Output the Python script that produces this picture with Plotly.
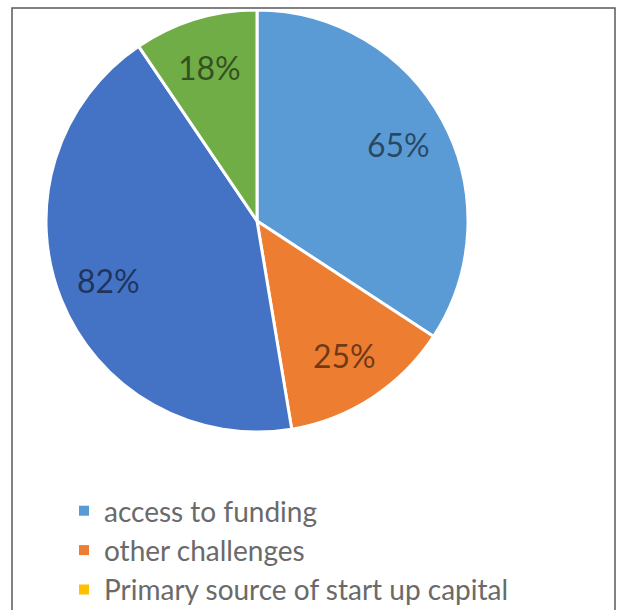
import math
import plotly.graph_objects as go

# Pie slices, clockwise from 12 o'clock
slice_values = [65, 25, 82, 18]
slice_colors = ["#5B9BD5", "#ED7D31", "#4472C4", "#70AD47"]
slice_text = [f"{v}%" for v in slice_values]

# Legend entries
legend_labels = ["access to funding", "other challenges", "Primary source of start up capital"]
legend_colors = ["#5B9BD5", "#ED7D31", "#FFC000"]

W, H = 617, 610
cx, cy, r = 257, 221, 211      # pie centre and radius (px)
label_radius = 0.76            # fraction of the pie radius where value labels sit

fig = go.Figure()
fig.add_trace(go.Pie(
    values=slice_values,
    textinfo="none",
    sort=False,
    direction="clockwise",
    rotation=0,
    marker=dict(colors=slice_colors, line=dict(color="white", width=3)),
    showlegend=False,
    domain=dict(x=[(cx - r) / W, (cx + r) / W], y=[1 - (cy + r) / H, 1 - (cy - r) / H]),
))

# Value labels at the middle angle of each slice
annotations = []
total = sum(slice_values)
start = 0.0
for v, t in zip(slice_values, slice_text):
    mid = (start + v / 2) / total * 2 * math.pi
    start += v
    px = cx + label_radius * r * math.sin(mid)
    py = cy - label_radius * r * math.cos(mid)
    annotations.append(dict(
        x=px / W, y=1 - py / H, xref="paper", yref="paper",
        text=t, showarrow=False, xanchor="center", yanchor="middle",
        font=dict(family="Lato", size=32, color="rgba(0,0,0,0.55)"),
    ))

for name, col in zip(legend_labels, legend_colors):
    fig.add_trace(go.Scatter(
        x=[None], y=[None], mode="markers", name=name,
        marker=dict(symbol="square", size=10, color=col),
    ))

fig.update_layout(
    width=W, height=H,
    margin=dict(l=0, r=0, t=0, b=0, autoexpand=False),
    paper_bgcolor="white",
    plot_bgcolor="white",
    xaxis=dict(visible=False),
    yaxis=dict(visible=False),
    annotations=annotations,
    legend=dict(
        x=64 / W, y=1 - 486 / H, xanchor="left", yanchor="top",
        font=dict(family="Lato", size=28, color="#6a6a6a"),
        bgcolor="rgba(0,0,0,0)",
    ),
    shapes=[dict(
        type="rect", xref="paper", yref="paper",
        x0=12 / W, x1=615 / W, y0=-0.05, y1=1 - 8 / H,
        line=dict(color="#595959", width=1.5),
    )],
)

fig.write_html("out.html")
